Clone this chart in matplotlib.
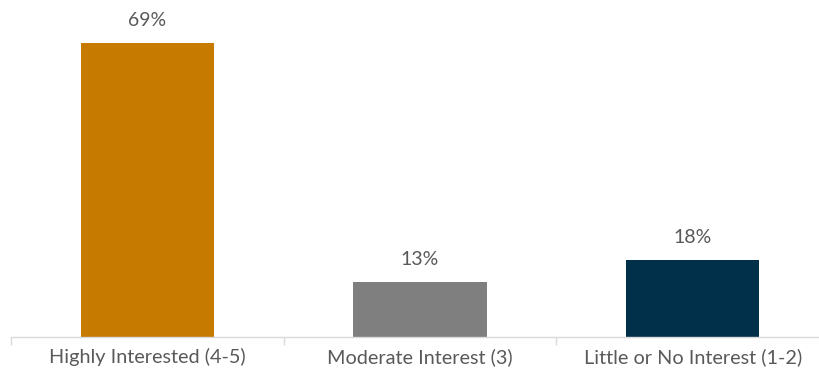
import numpy as np
import matplotlib.pyplot as plt

# Interest level breakdown
categories = ["Highly Interested (4-5)", "Moderate Interest (3)", "Little or No Interest (1-2)"]
shares = [69, 13, 18]
bar_colors = ["#C77A00", "#7F7F7F", "#00304A"]

plt.rcParams['font.family'] = ['Lato', 'DejaVu Sans']
text_color = "#595959"

fig = plt.figure(figsize=(8.2, 3.73), dpi=100)
ax = fig.add_axes([11 / 820, 1 - 337 / 373, 818 / 820, 337 / 373])

x = np.arange(len(categories))
ax.bar(x, shares, width=0.49, color=bar_colors)

for xi, v in zip(x, shares):
    ax.annotate(f"{v}%", (xi, v), xytext=(0, 10), textcoords="offset points",
                ha="center", va="bottom", fontsize=14, color=text_color)

ax.set_xlim(-0.5, len(categories) - 0.5)
ax.set_ylim(0, 79)

# category labels, with small boundary ticks on the baseline
ax.set_xticks(x)
ax.set_xticklabels(categories, fontsize=14.3, color=text_color)
ax.tick_params(axis="x", which="major", length=0, pad=8)
ax.set_xticks(np.arange(-0.5, len(categories)), minor=True)
ax.tick_params(axis="x", which="minor", length=6, width=1, color="#D9D9D9")
ax.set_yticks([])

for side in ["top", "right", "left"]:
    ax.spines[side].set_visible(False)
ax.spines["bottom"].set_color("#D9D9D9")
ax.spines["bottom"].set_linewidth(1)

fig.savefig("out.png", dpi=100)
